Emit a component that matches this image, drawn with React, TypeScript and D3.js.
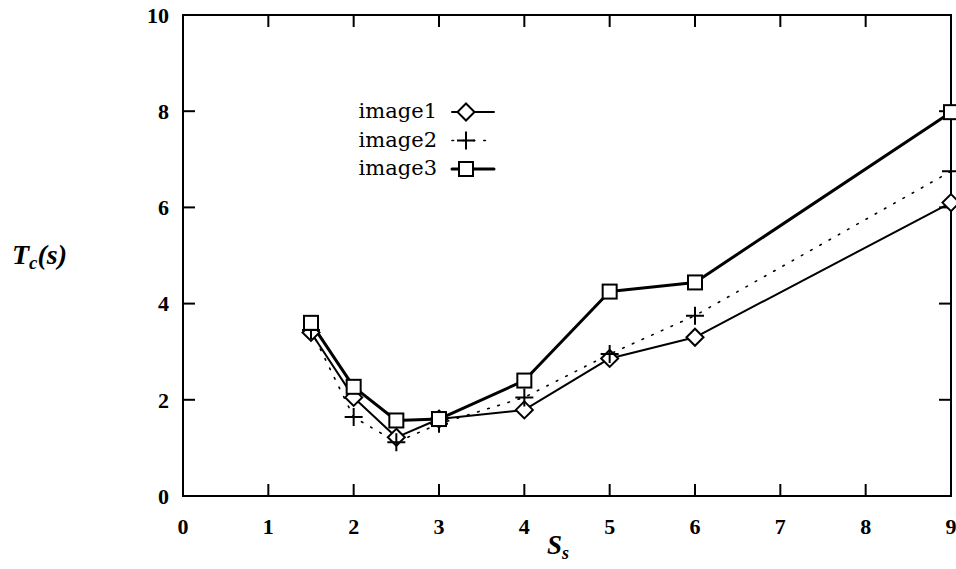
import { useMemo } from "react";
import * as d3 from "d3";

const WIDTH = 956;
const HEIGHT = 569;
const MARGIN = { top: 15, right: 4, bottom: 73, left: 183 };

const S_VALUES = [1.5, 2, 2.5, 3, 4, 5, 6, 9];
const IMAGE1 = [3.4, 2.05, 1.22, 1.6, 1.79, 2.86, 3.3, 6.1];
const IMAGE2 = [3.45, 1.64, 1.12, 1.5, 2.05, 2.95, 3.75, 6.75];
const IMAGE3 = [3.6, 2.27, 1.57, 1.6, 2.4, 4.25, 4.44, 7.98];
const X_TICKS = [0, 1, 2, 3, 4, 5, 6, 7, 8, 9];
const Y_TICKS = [0, 2, 4, 6, 8, 10];

const SERIES = [
  { name: "image1", values: IMAGE1, marker: "diamond", width: 2, dash: null },
  { name: "image2", values: IMAGE2, marker: "plus", width: 1.6, dash: "1.6 9" },
  { name: "image3", values: IMAGE3, marker: "square", width: 3, dash: null },
];

const FONT = "'Liberation Serif', 'DejaVu Serif', serif";
const LEGEND_FONT = "'DejaVu Serif', serif";
const TICK = 12;

const Marker = ({ type, x, y }: { type: string; x: number; y: number }) => {
  if (type === "diamond") {
    const r = 8.5;
    return (
      <path
        d={`M${x},${y - r}L${x + r},${y}L${x},${y + r}L${x - r},${y}Z`}
        fill="white"
        stroke="black"
        strokeWidth={2}
      />
    );
  }
  if (type === "plus") {
    const r = 9;
    return (
      <path
        d={`M${x - r},${y}H${x + r}M${x},${y - r}V${y + r}`}
        stroke="black"
        strokeWidth={2}
      />
    );
  }
  const r = 7;
  return (
    <rect
      x={x - r}
      y={y - r}
      width={2 * r}
      height={2 * r}
      fill="white"
      stroke="black"
      strokeWidth={2}
    />
  );
};

export default function App() {
  const boundsWidth = WIDTH - MARGIN.left - MARGIN.right;
  const boundsHeight = HEIGHT - MARGIN.top - MARGIN.bottom;

  const xScale = useMemo(
    () => d3.scaleLinear().domain([0, 9]).range([0, boundsWidth - 1]),
    [boundsWidth]
  );
  const yScale = useMemo(
    () => d3.scaleLinear().domain([0, 10]).range([boundsHeight, 0]),
    [boundsHeight]
  );

  const line = d3
    .line<number>()
    .x((_, i) => xScale(S_VALUES[i]))
    .y((d) => yScale(d));

  return (
    <svg
      width={WIDTH}
      height={HEIGHT}
      style={{ position: "absolute", left: 0, top: 0, background: "white" }}
    >
      <g transform={`translate(${MARGIN.left},${MARGIN.top})`}>
        {/* frame */}
        <rect
          x={0}
          y={0}
          width={xScale(9)}
          height={boundsHeight}
          fill="none"
          stroke="black"
          strokeWidth={2}
        />

        {/* x ticks, bottom and top */}
        {X_TICKS.map((t) => (
          <g key={`x-${t}`}>
            <line
              x1={xScale(t)}
              x2={xScale(t)}
              y1={boundsHeight}
              y2={boundsHeight - TICK}
              stroke="black"
              strokeWidth={2}
            />
            <line
              x1={xScale(t)}
              x2={xScale(t)}
              y1={0}
              y2={TICK}
              stroke="black"
              strokeWidth={2}
            />
            <text
              x={xScale(t)}
              y={boundsHeight + 38}
              textAnchor="middle"
              fontFamily={FONT}
              fontWeight="bold"
              fontSize={22}
            >
              {t}
            </text>
          </g>
        ))}

        {/* y ticks, left and right */}
        {Y_TICKS.map((t) => (
          <g key={`y-${t}`}>
            <line
              x1={0}
              x2={TICK}
              y1={yScale(t)}
              y2={yScale(t)}
              stroke="black"
              strokeWidth={2}
            />
            <line
              x1={xScale(9)}
              x2={xScale(9) - TICK}
              y1={yScale(t)}
              y2={yScale(t)}
              stroke="black"
              strokeWidth={2}
            />
            <text
              x={-14}
              y={yScale(t)}
              dy="0.35em"
              textAnchor="end"
              fontFamily={FONT}
              fontWeight="bold"
              fontSize={22}
            >
              {t}
            </text>
          </g>
        ))}

        {/* series lines */}
        {SERIES.map((s) => (
          <path
            key={s.name}
            d={line(s.values) ?? ""}
            fill="none"
            stroke="black"
            strokeWidth={s.width}
            strokeDasharray={s.dash ?? undefined}
            strokeLinecap="round"
            strokeLinejoin="round"
          />
        ))}

        {/* markers */}
        {SERIES.map((s) =>
          s.values.map((v, i) => (
            <Marker
              key={`${s.name}-${i}`}
              type={s.marker}
              x={xScale(S_VALUES[i])}
              y={yScale(v)}
            />
          ))
        )}
      </g>

      {/* legend */}
      <g fontFamily={LEGEND_FONT} fontSize={21} fontWeight={500}>
        {SERIES.map((s, i) => {
          const y = 112 + i * 28.5;
          return (
            <g key={`leg-${s.name}`}>
              <text x={437} y={y} dy="0.3em" textAnchor="end">
                {s.name}
              </text>
              <line
                x1={452}
                x2={494}
                y1={y}
                y2={y}
                stroke="black"
                strokeWidth={s.width}
                strokeDasharray={s.dash ?? undefined}
                strokeLinecap="round"
              />
              <Marker type={s.marker} x={466} y={y} />
            </g>
          );
        })}
      </g>

      {/* axis labels */}
      <text
        x={12}
        y={264}
        fontFamily={FONT}
        fontStyle="italic"
        fontWeight="bold"
        fontSize={28}
      >
        T<tspan fontSize={19} dy={5}>c</tspan>
        <tspan dy={-5}>(s)</tspan>
      </text>
      <text
        x={547}
        y={554}
        fontFamily={FONT}
        fontStyle="italic"
        fontWeight="bold"
        fontSize={27}
      >
        S<tspan fontSize={18} dy={5}>s</tspan>
      </text>
    </svg>
  );
}
